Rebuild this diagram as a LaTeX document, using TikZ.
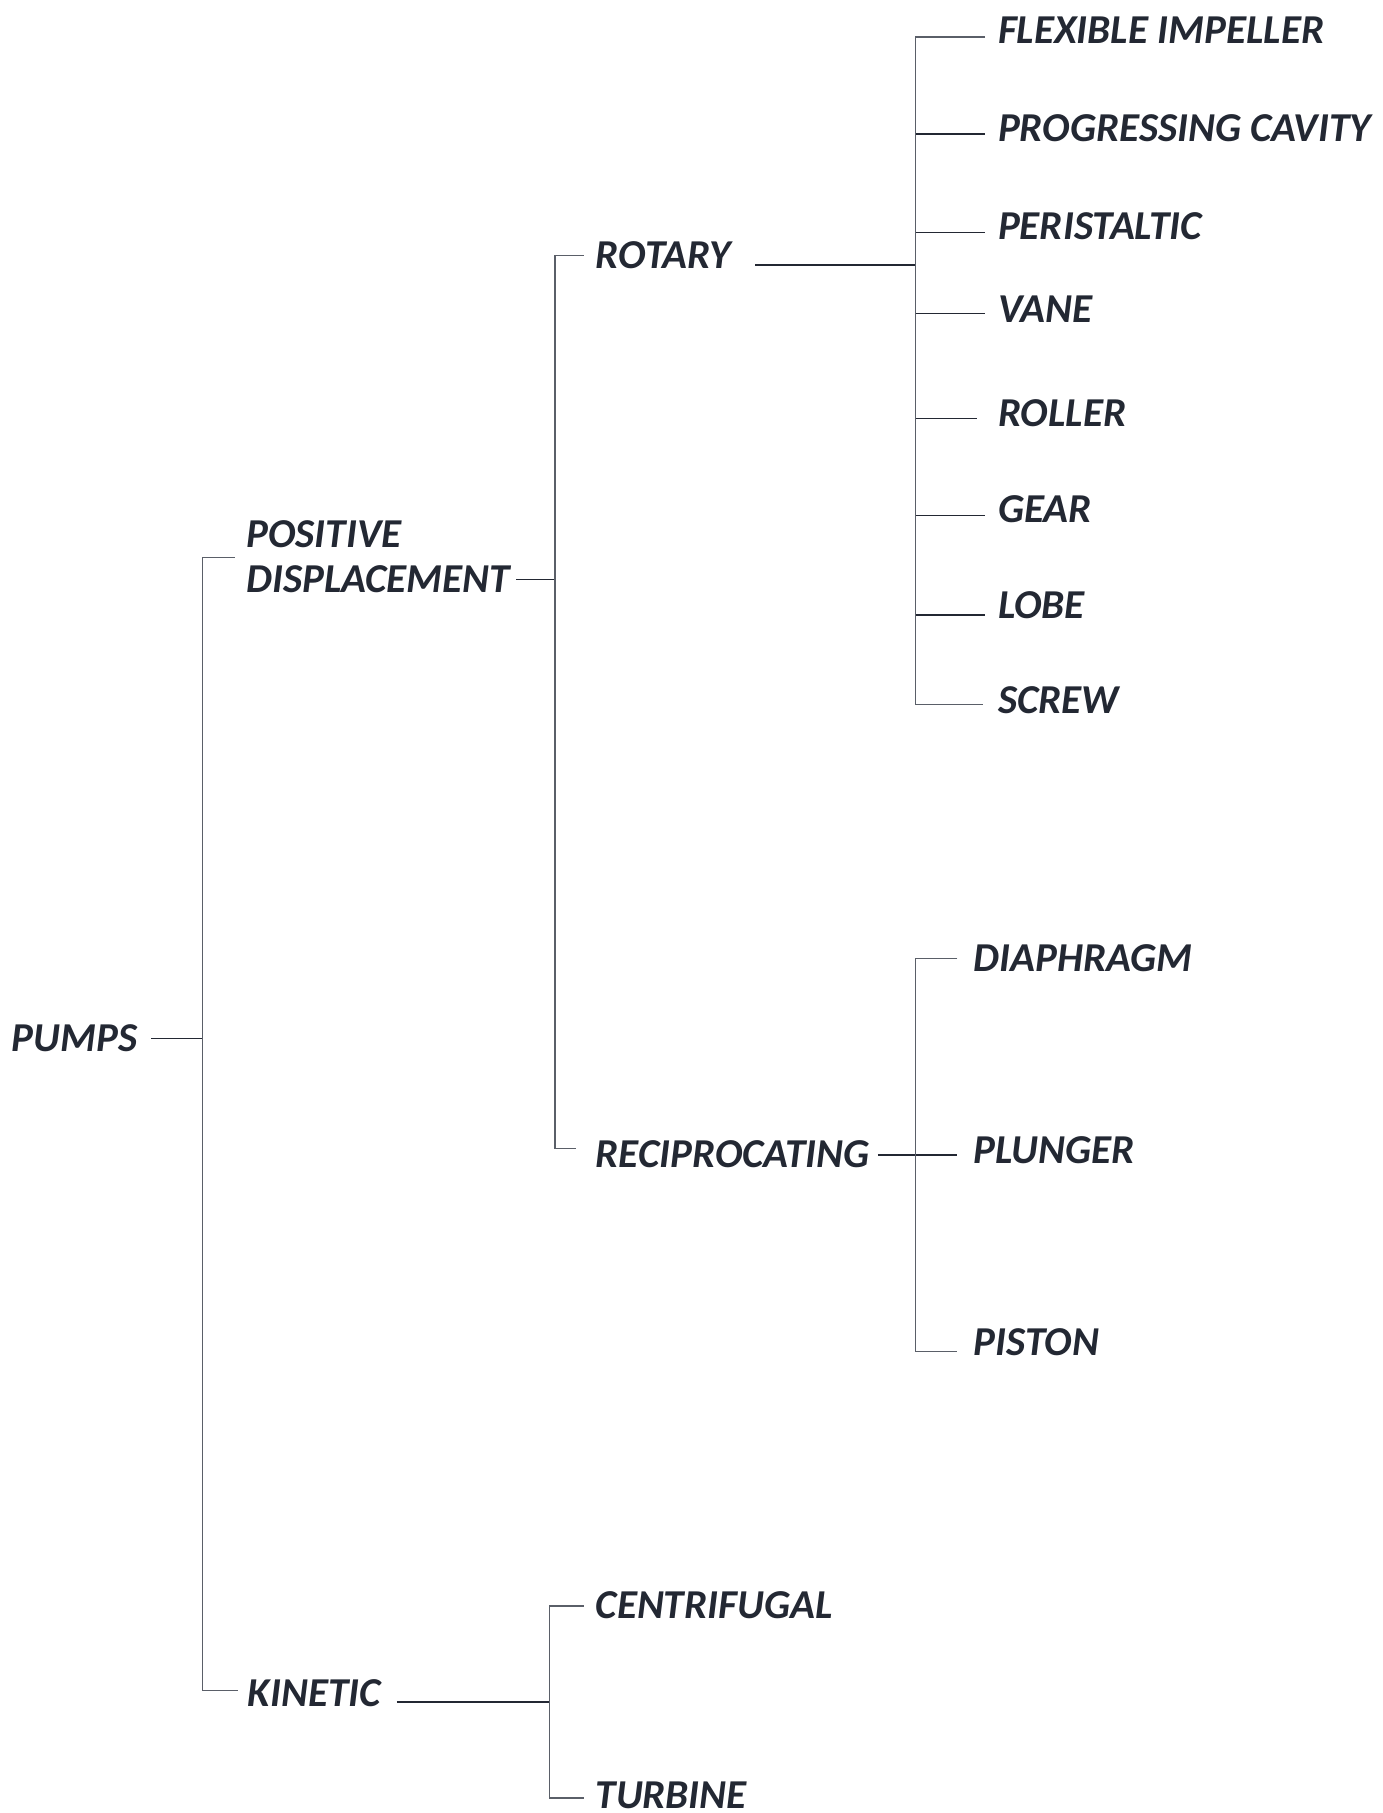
\documentclass[tikz,border=0pt]{standalone}
\usepackage{fontspec}
\setmainfont{Carlito}
\definecolor{ink}{HTML}{232833}
\definecolor{spine}{HTML}{5A5F68}
\begin{document}
\begin{tikzpicture}[x=1pt,y=-1pt,
  lbl/.style={font=\fontsize{35.5}{39}\selectfont\bfseries\itshape, text=ink, inner sep=0pt, anchor=base west},
  hl/.style={draw=ink, line width=1.3pt},
  vl/.style={draw=spine, line width=1pt}]
\useasboundingbox[fill=white] (0,0) rectangle (1196,1568);
% labels
\node[lbl] (pumps) at (10,909.5) {PUMPS};
\node[lbl] (pd1) at (213,473.5) {POSITIVE};
\node[lbl] (pd2) at (213,512.5) {DISPLACEMENT};
\node[lbl] (rotary) at (515,232.5) {ROTARY};
\node[lbl] (recip) at (515,1009.5) {RECIPROCATING};
\node[lbl] (kinetic) at (214,1475.5) {KINETIC};
\node[lbl] (centri) at (515,1399.5) {CENTRIFUGAL};
\node[lbl] (turbine) at (515,1564.5) {TURBINE};
\node[lbl] (flex) at (863,38) {FLEXIBLE IMPELLER};
\node[lbl] (prog) at (863,122) {PROGRESSING CAVITY};
\node[lbl] (peri) at (863,207) {PERISTALTIC};
\node[lbl] (vane) at (863,279) {VANE};
\node[lbl] (roller) at (863,369) {ROLLER};
\node[lbl] (gear) at (863,452) {GEAR};
\node[lbl] (lobe) at (863,534.5) {LOBE};
\node[lbl] (screw) at (863,617.5) {SCREW};
\node[lbl] (diaph) at (842,840.5) {DIAPHRAGM};
\node[lbl] (plunger) at (842,1006.5) {PLUNGER};
\node[lbl] (piston) at (842,1172.5) {PISTON};
% junction coordinates
\coordinate (s1) at (175,0);
\coordinate (s2) at (480,0);
\coordinate (s3) at (792,0);
\coordinate (s4) at (475,0);
% PUMPS level
\draw[hl] ([xshift=12pt]pumps.east) -- (pumps.east -| s1);
\draw[vl] ([xshift=-10pt]pd1.west |- 0,482) -- (s1 |- 0,482) -- (s1 |- 0,1462) -- ([xshift=-8pt]kinetic.west |- 0,1462);
% positive displacement level
\draw[hl] ([xshift=5pt]pd2.east |- 0,501) -- (s2 |- 0,501);
\draw[vl] ([xshift=-10pt]rotary.west |- 0,221) -- (s2 |- 0,221) -- (s2 |- 0,993) -- ([xshift=-17pt]recip.west |- 0,993);
% rotary level
\draw[hl] ([xshift=21pt]rotary.east |- 0,229) -- (s3 |- 0,229);
\draw[vl] ([xshift=-11pt]flex.west |- 0,32) -- (s3 |- 0,32) -- (s3 |- 0,609) -- ([xshift=-13pt]screw.west |- 0,609);
\foreach \n/\yy/\g in {prog/116/11, peri/201/11, vane/271/11, roller/362/18, gear/446/11, lobe/532/11}
  \draw[hl] (s3 |- 0,\yy) -- ([xshift=-\g pt]\n.west |- 0,\yy);
% reciprocating level
\draw[hl] ([xshift=7pt]recip.east |- 0,999) -- ([xshift=-14pt]plunger.west |- 0,999);
\draw[vl] ([xshift=-14pt]diaph.west |- 0,829) -- (s3 |- 0,829) -- (s3 |- 0,1169) -- ([xshift=-14pt]piston.west |- 0,1169);
% kinetic level
\draw[hl] ([xshift=14pt]kinetic.east |- 0,1472) -- (s4 |- 0,1472);
\draw[vl] ([xshift=-10pt]centri.west |- 0,1389) -- (s4 |- 0,1389) -- (s4 |- 0,1555) -- ([xshift=-10pt]turbine.west |- 0,1555);
\end{tikzpicture}
\end{document}
